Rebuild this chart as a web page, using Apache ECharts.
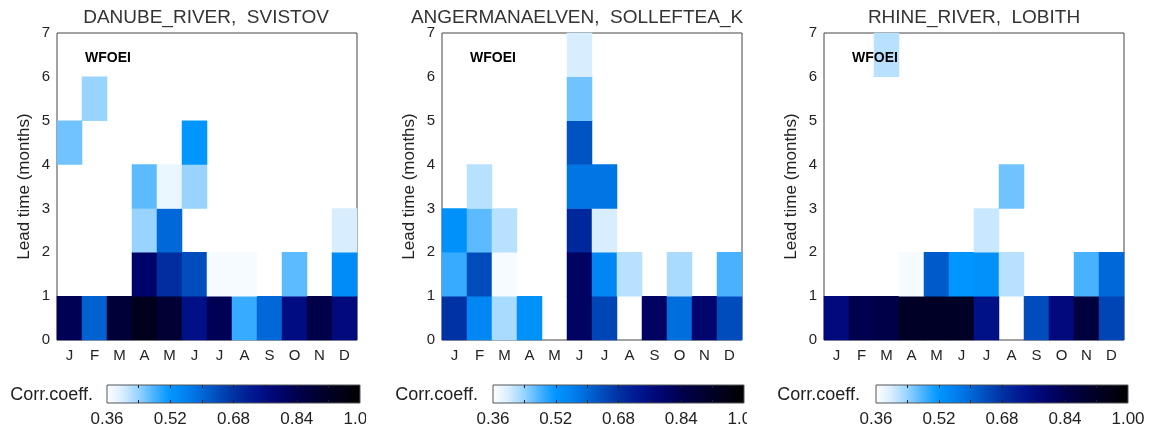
<!DOCTYPE html>
<html>
<head>
<meta charset="utf-8">
<script src="https://cdn.jsdelivr.net/npm/echarts@6/dist/echarts.min.js"></script>
<style>
html,body{margin:0;padding:0;background:#fff;}
#chart{width:1153px;height:432px;}
</style>
</head>
<body>
<div id="chart"></div>
<script>
// ---- data ----
const months = ['J','F','M','A','M','J','J','A','S','O','N','D'];
const leadTicks = [0,1,2,3,4,5,6,7];
const titles = ['DANUBE_RIVER,  SVISTOV', 'ANGERMANAELVEN,  SOLLEFTEA_K', 'RHINE_RIVER,  LOBITH'];
const datasetLabel = 'WFOEI';
const cbLabels = [0.36, 0.52, 0.68, 0.84, 1.0];
const cbMinorTicks = [0.44, 0.52, 0.60, 0.68, 0.76, 0.84, 0.92];
const cbMin = 0.36, cbMax = 1.0;
// rows = lead time 0..6, columns = months J..D (null = not shown)
const danube = [
  [0.83,0.61,0.88,0.94,0.89,0.75,0.83,0.49,0.60,0.76,0.85,0.77],
  [null,null,null,0.80,0.69,0.64,0.37,0.37,null,0.47,null,0.54],
  [null,null,null,0.44,0.60,null,null,null,null,null,null,0.40],
  [null,null,null,0.47,0.38,0.44,null,null,null,null,null,null],
  [0.46,null,null,null,null,0.52,null,null,null,null,null,null],
  [null,0.44,null,null,null,null,null,null,null,null,null,null],
  [null,null,null,null,null,null,null,null,null,null,null,null]
];
const angerman = [
  [0.68,0.55,0.43,0.53,null,0.81,0.65,null,0.81,0.59,0.79,0.64],
  [0.49,0.64,0.37,null,null,0.81,0.55,0.42,null,0.43,null,0.48],
  [0.53,0.47,0.42,null,null,0.70,0.40,null,null,null,null,null],
  [null,0.42,null,null,null,0.58,0.58,null,null,null,null,null],
  [null,null,null,null,null,0.63,null,null,null,null,null,null],
  [null,null,null,null,null,0.46,null,null,null,null,null,null],
  [null,null,null,null,null,0.40,null,null,null,null,null,null]
];
const rhine = [
  [0.77,0.84,0.85,0.92,0.92,0.92,0.75,null,0.64,0.77,0.87,0.65],
  [null,null,null,0.37,0.62,0.52,0.53,0.42,null,null,0.48,0.60],
  [null,null,null,null,null,null,0.41,null,null,null,null,null],
  [null,null,null,null,null,null,null,0.46,null,null,null,null],
  [null,null,null,null,null,null,null,null,null,null,null,null],
  [null,null,null,null,null,null,null,null,null,null,null,null],
  [null,null,0.42,null,null,null,null,null,null,null,null,null]
];
const panels = [danube, angerman, rhine];
// colour table (evenly spaced from 0.36 to 1.00)
const colors = ['#ffffff','#d8eeff','#98d4ff','#48b2ff','#0096ff','#0082f0','#0068d8','#004cbc',
  '#0032a4','#001c94','#000c82','#000468','#00004e','#000038','#000026','#000012','#000000'];

// ---- layout ----
const FONT = 'Liberation Sans, Arial, sans-serif';
const gridsMain = [
  {left: 57, top: 33, width: 300, height: 307},
  {left: 442, top: 33, width: 300, height: 307},
  {left: 824, top: 33, width: 300, height: 307}
];
const titleCenters = [206, 577, 974];
const gridsCb = [
  {left: 107, top: 385, width: 253, height: 18},
  {left: 493, top: 385, width: 251, height: 18},
  {left: 876, top: 385, width: 252, height: 18}
];
const cbTextRight = [93, 478, 860];

const grid = [], xAxis = [], yAxis = [], series = [], graphic = [];
const gradient = {type:'linear', x:0, y:0, x2:1, y2:0,
  colorStops: colors.map((c,i)=>({offset: i/(colors.length-1), color: c}))};

panels.forEach((mat, p) => {
  const g = gridsMain[p];
  grid.push(Object.assign({show: true, borderColor: '#444', borderWidth: 1, backgroundColor: '#fff', z: 0}, g));
  xAxis.push({
    type: 'category', gridIndex: p, data: months,
    axisLine: {show: false}, axisTick: {show: false}, splitLine: {show: false},
    axisLabel: {color: '#222', fontFamily: FONT, fontSize: 15, margin: 8, interval: 0}
  });
  // category y-axis for heatmap cells (hidden)
  yAxis.push({
    type: 'category', gridIndex: p, position: 'right', data: leadTicks.slice(0, 7).map(String),
    show: false
  });
  // value y-axis for boundary tick labels
  yAxis.push({
    type: 'value', gridIndex: p, position: 'left', offset: 0, min: 0, max: 7, interval: 1,
    axisLine: {show: false}, axisTick: {show: false}, splitLine: {show: false},
    axisLabel: {color: '#222', fontFamily: FONT, fontSize: 15, margin: 7},
    name: 'Lead time (months)', nameLocation: 'middle', nameGap: 24,
    nameTextStyle: {color: '#222', fontFamily: FONT, fontSize: 17}
  });
  const data = [];
  mat.forEach((row, lead) => row.forEach((v, m) => { if (v !== null) data.push([m, lead, v]); }));
  series.push({
    type: 'heatmap', xAxisIndex: p, yAxisIndex: 2 * p, data: data,
    itemStyle: {borderWidth: 0}, emphasis: {disabled: true}, z: 1
  });
  graphic.push({
    type: 'text', x: titleCenters[p], y: 18, z: 10,
    style: {text: titles[p], textAlign: 'center', textVerticalAlign: 'middle',
      font: '19px ' + FONT, fill: '#333'}
  });
  graphic.push({
    type: 'text', x: g.left + 28, y: 58, z: 10,
    style: {text: datasetLabel, textAlign: 'left', textVerticalAlign: 'middle',
      font: 'bold 14px ' + FONT, fill: '#000'}
  });
});

// colour bars
gridsCb.forEach((g, p) => {
  const gi = 3 + p;
  grid.push(Object.assign({show: true, borderColor: '#555', borderWidth: 1, backgroundColor: gradient}, g));
  xAxis.push({
    type: 'value', gridIndex: gi, min: cbMin, max: cbMax, position: 'bottom',
    axisLine: {show: false}, splitLine: {show: false},
    axisTick: {show: true, inside: true, length: 3, customValues: cbMinorTicks, lineStyle: {color: '#222'}},
    axisLabel: {customValues: cbLabels, formatter: v => v.toFixed(2), color: '#222',
      fontFamily: FONT, fontSize: 17, margin: 8}
  });
  xAxis.push({
    type: 'value', gridIndex: gi, min: cbMin, max: cbMax, position: 'top',
    axisLine: {show: false}, splitLine: {show: false},
    axisTick: {show: true, inside: true, length: 3, customValues: cbMinorTicks, lineStyle: {color: '#222'}},
    axisLabel: {show: false}
  });
  yAxis.push({type: 'value', gridIndex: gi, min: 0, max: 1, show: false});
  graphic.push({
    type: 'text', x: cbTextRight[p], y: 395, z: 10,
    style: {text: 'Corr.coeff.', textAlign: 'right', textVerticalAlign: 'middle',
      font: '18px ' + FONT, fill: '#222'}
  });
});
// emulate cropped panel edges of the original image
graphic.push({type: 'rect', shape: {x: 366, y: 408, width: 14, height: 24}, style: {fill: '#fff'}, z: 100});
graphic.push({type: 'rect', shape: {x: 747, y: 408, width: 16, height: 24}, style: {fill: '#fff'}, z: 100});

const chart = echarts.init(document.getElementById('chart'), null, {renderer: 'canvas'});
chart.setOption({
  animation: false,
  backgroundColor: '#fff',
  grid, xAxis, yAxis, series, graphic,
  visualMap: {
    type: 'continuous', show: false, min: cbMin, max: cbMax,
    seriesIndex: [0, 1, 2], dimension: 2,
    inRange: {color: colors}
  }
});
</script>
</body>
</html>
